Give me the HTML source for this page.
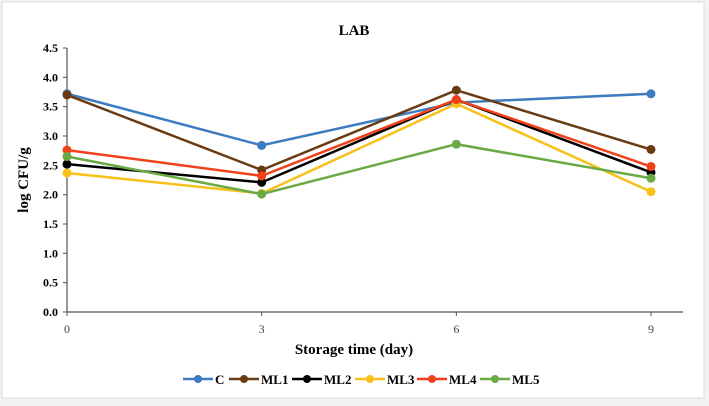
<!DOCTYPE html>
<html><head><meta charset="utf-8"><style>
body{margin:0;background:#fff}
svg{display:block;font-family:"Liberation Serif",serif}
</style></head><body>
<svg width="709" height="406">
<rect x="0" y="0" width="709" height="406" fill="#f2f2f2"/>
<rect x="2" y="2" width="702" height="396" fill="#fff" stroke="#d9d9d9"/>
<text x="354" y="35" text-anchor="middle" font-size="15" font-weight="bold">LAB</text>
<g id="axes"></g>
<g id="series"></g>
<text x="354" y="354" text-anchor="middle" font-size="15" font-weight="bold">Storage time (day)</text>
<text transform="translate(28,180) rotate(-90)" text-anchor="middle" font-size="15" font-weight="bold">log CFU/g</text>
<g id="legend"></g>
</svg>
<script>
const categories=[0,3,6,9];
const seriesNames=["C","ML1","ML2","ML3","ML4","ML5"];
const colors=["#3d7cc0","#6a3b12","#000000","#f8c11a","#f0421a","#6aaa45"];
const valC=[3.72,2.84,3.57,3.72];
const valML1=[3.70,2.42,3.78,2.77];
const valML2=[2.52,2.21,3.62,2.38];
const valML3=[2.37,2.02,3.55,2.05];
const valML4=[2.76,2.32,3.62,2.48];
const valML5=[2.65,2.01,2.86,2.28];
const yTicks=[0,0.5,1,1.5,2,2.5,3,3.5,4,4.5];
const allVals=[valC,valML1,valML2,valML3,valML4,valML5];
const NS="http://www.w3.org/2000/svg";
function X(v){return 67+v*(651-67)/9;}
function Y(v){return 312-v*(312-48)/4.5;}
function mk(t,a,p){const e=document.createElementNS(NS,t);for(const k in a)e.setAttribute(k,a[k]);p.appendChild(e);return e;}
const ax=document.getElementById('axes');
let l=mk('line',{x1:67,y1:48,x2:67,y2:312,stroke:'#555','stroke-width':1.2},ax);


l=mk('line',{x1:67,y1:312,x2:683,y2:312,stroke:'#555','stroke-width':1.2},ax);


yTicks.forEach(t=>{mk('line',{x1:63,y1:Y(t),x2:67,y2:Y(t),stroke:'#555'},ax);
const tx=mk('text',{x:58,y:Y(t)+4,'text-anchor':'end','font-size':12,'font-weight':'bold'},ax);tx.textContent=t.toFixed(1);

});
categories.forEach(c=>{mk('line',{x1:X(c),y1:312,x2:X(c),y2:316,stroke:'#555'},ax);
const tx=mk('text',{x:X(c),y:333,'text-anchor':'middle','font-size':12,fill:'#444'},ax);tx.textContent=c;

});
const sg=document.getElementById('series');
allVals.forEach((vals,i)=>{
const g=mk('g',{},sg);


mk('polyline',{points:vals.map((v,j)=>X(categories[j])+','+Y(v)).join(' '),fill:'none',stroke:colors[i],'stroke-width':2.5},g);
vals.forEach((v,j)=>{const c=mk('circle',{cx:X(categories[j]),cy:Y(v),r:4.5,fill:colors[i]},g);

});
});
const lg=document.getElementById('legend');
const lx=[183,229,292,355,417,480];
seriesNames.forEach((n,i)=>{
const g=mk('g',{},lg);


mk('line',{x1:lx[i],y1:379,x2:lx[i]+30,y2:379,stroke:colors[i],'stroke-width':2.5},g);
mk('circle',{cx:lx[i]+15,cy:379,r:4,fill:colors[i]},g);
const t=mk('text',{x:lx[i]+32,y:384,'font-size':13,'font-weight':'bold'},g);t.textContent=n;
});
</script>
</body></html>
